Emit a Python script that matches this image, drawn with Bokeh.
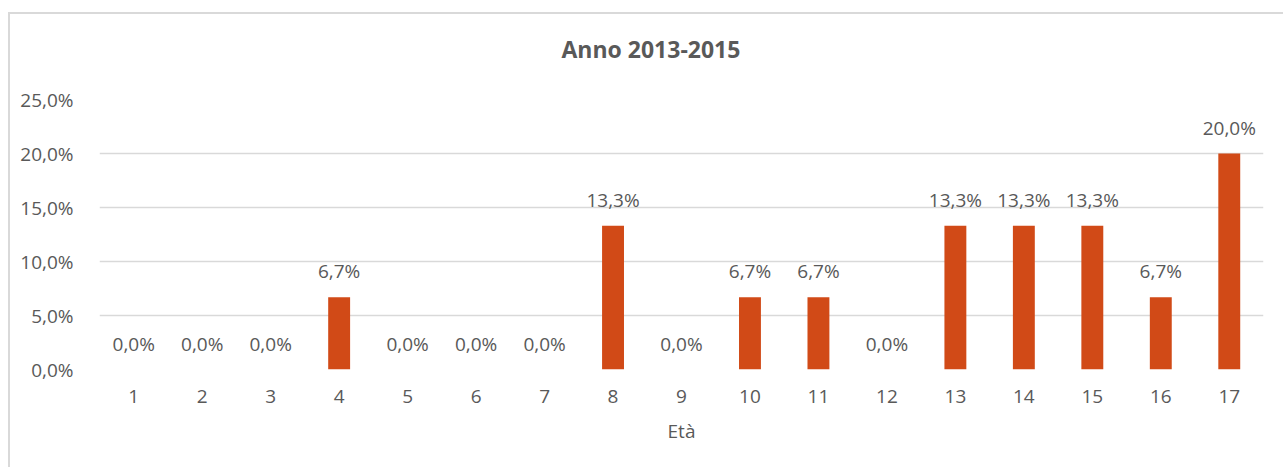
from bokeh.plotting import figure
from bokeh.models import ColumnDataSource, FixedTicker, CustomJSTickFormatter, FactorRange, Range1d, Title
from bokeh.embed import file_html
from bokeh.resources import INLINE
from bokeh.core.properties import value

categories = [str(i) for i in range(1, 18)]
values = [0.0, 0.0, 0.0, 6.7, 0.0, 0.0, 0.0, 13.3, 0.0, 6.7, 6.7, 0.0, 13.3, 13.3, 13.3, 6.7, 20.0]
y_ticks = [0, 5, 10, 15, 20, 25]
title_text = "Anno 2013-2015"
x_title = "Età"

labels = [("%.1f" % v).replace(".", ",") + "%" for v in values]
src = ColumnDataSource(dict(cat=categories, val=values, lab=labels))

FONT = "Open Sans"
TXT = "#595959"
GRID = "#D9D9D9"
BAR = "#D14A17"

p = figure(width=1275, height=455, x_range=FactorRange(*categories, range_padding=0),
           y_range=Range1d(0, 25), output_backend="svg", toolbar_location=None,
           min_border_left=89, min_border_right=22, min_border_top=85, min_border_bottom=100)
p.styles = {"margin-left": "8px", "margin-top": "12px",
            "border-left": "2px solid #D9D9D9", "border-top": "2px solid #D9D9D9"}
p.outline_line_color = None
p.title.text = ""

spacer = Title(text=" ", text_font_size="10px", standoff=22)
p.add_layout(spacer, "above")
title = Title(text=title_text, text_font=FONT, text_font_size="23px", text_font_style="bold",
              text_color=TXT, align="left", offset=462, standoff=0)
p.add_layout(title, "above")

p.vbar(x="cat", top="val", width=0.32, fill_color=BAR, line_color=None, source=src)
p.text(x="cat", y="val", text="lab", source=src, text_align="center", text_baseline="alphabetic",
       y_offset=-26, text_font=value(FONT), text_font_size="19px", text_color=TXT)

p.xgrid.grid_line_color = None
p.ygrid.grid_line_color = GRID
p.ygrid.grid_line_width = 1.5

p.yaxis.ticker = FixedTicker(ticks=y_ticks)
p.yaxis.formatter = CustomJSTickFormatter(code="return tick.toFixed(1).replace('.', ',') + '%';")
for ax in (p.xaxis, p.yaxis):
    ax.axis_line_color = None
    ax.major_tick_line_color = None
    ax.minor_tick_line_color = None
    ax.major_label_text_font = FONT
    ax.major_label_text_font_size = "19px"
    ax.major_label_text_color = TXT
p.yaxis.major_label_standoff = 20
p.xaxis.major_label_standoff = 14
p.xaxis.axis_label = x_title
p.xaxis.axis_label_text_font = FONT
p.xaxis.axis_label_text_font_size = "19px"
p.xaxis.axis_label_text_font_style = "normal"
p.xaxis.axis_label_text_color = TXT
p.xaxis.axis_label_standoff = 12

open("out.html", "w").write(file_html(p, INLINE))
